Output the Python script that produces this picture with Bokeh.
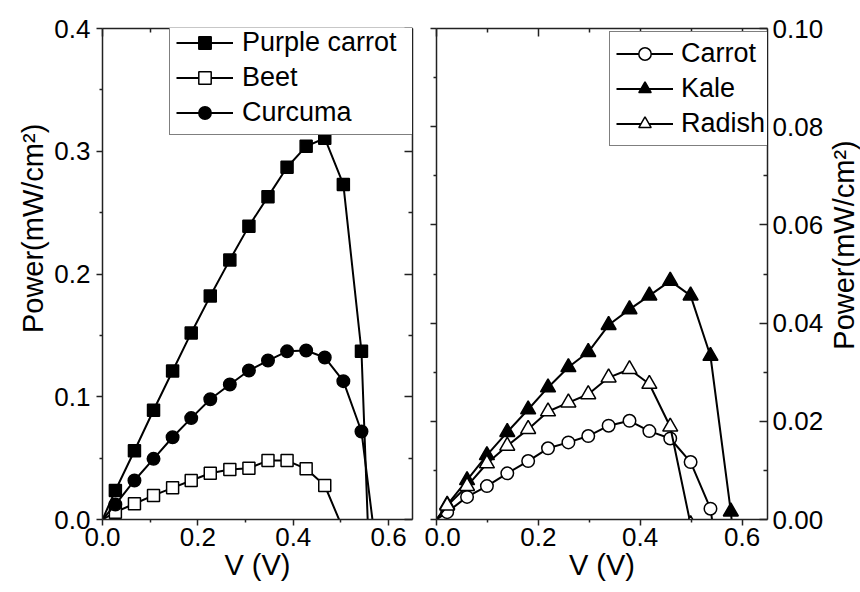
import math

from bokeh.core.properties import value
from bokeh.embed import file_html
from bokeh.layouts import row
from bokeh.models import (CustomJSTickFormatter, FixedTicker, Legend, LegendItem,
                          LinearAxis, PrintfTickFormatter, Range1d)
from bokeh.plotting import figure
from bokeh.resources import INLINE

# ---- left panel: purple carrot, beet, curcuma ----
v_left = [0.0, 0.027, 0.067, 0.107, 0.147, 0.186, 0.226, 0.267, 0.307, 0.347,
          0.387, 0.427, 0.466, 0.505, 0.543, 0.583]
purple_carrot = [0.0, 0.0236, 0.056, 0.089, 0.121, 0.152, 0.182, 0.2115, 0.239,
                 0.263, 0.287, 0.304, 0.3106, 0.273, 0.137, -0.284]
beet = [0.0, 0.006, 0.0128, 0.0196, 0.0258, 0.0318, 0.0377, 0.0407, 0.0418,
        0.048, 0.048, 0.0413, 0.0277, -0.0083]
curcuma = [0.0, 0.0122, 0.0318, 0.0494, 0.067, 0.0826, 0.098, 0.110, 0.1214,
           0.1295, 0.137, 0.1377, 0.132, 0.1127, 0.0717, -0.053]

# ---- right panel: carrot, kale, radish ----
v_right = [0.0, 0.021, 0.060, 0.099, 0.139, 0.180, 0.219, 0.259, 0.298, 0.338,
           0.379, 0.418, 0.459, 0.499, 0.538, 0.578, 0.618]
carrot = [0.0, 0.0015, 0.0046, 0.0068, 0.0094, 0.0119, 0.0145, 0.0157, 0.017,
          0.0191, 0.0201, 0.018, 0.0165, 0.0117, 0.0022, -0.026]
kale = [0.0, 0.003, 0.008, 0.0131, 0.0178, 0.0224, 0.0269, 0.031, 0.0341,
        0.0396, 0.0428, 0.0456, 0.0486, 0.0456, 0.0333, 0.0016, -0.041]
radish = [0.0, 0.0028, 0.0068, 0.0114, 0.015, 0.0184, 0.022, 0.0238, 0.0255,
          0.0289, 0.0306, 0.0276, 0.0189, -0.001]

# ---- ticks ----
x_major = [0.0, 0.2, 0.4, 0.6]
x_minor = [0.1, 0.3, 0.5]
yl_major = [0.0, 0.1, 0.2, 0.3, 0.4]
yl_minor = [0.05, 0.15, 0.25, 0.35]
yr_major = [0.0, 0.02, 0.04, 0.06, 0.08, 0.10]
yr_minor = [0.01, 0.03, 0.05, 0.07, 0.09]

x_title = "V (V)"
y_title = "Power(mW/cm²)"

FONT = "Liberation Sans"
AXIS_COLOR = "#222222"
TICK_FONT = "26px"
LABEL_FONT = "29px"
LEGEND_FONT = "27px"
HEIGHT = 592


def style_axis(ax, major, minor, fmt, labels, inward):
    ax.ticker = FixedTicker(ticks=major, minor_ticks=minor)
    ax.axis_line_color = AXIS_COLOR
    ax.axis_line_width = 1.5
    ax.major_tick_line_color = AXIS_COLOR
    ax.minor_tick_line_color = AXIS_COLOR
    ax.major_tick_line_width = 1.5
    ax.minor_tick_line_width = 1.5
    if inward:
        ax.major_tick_in, ax.major_tick_out = 8, 0
        ax.minor_tick_in, ax.minor_tick_out = 4, 0
    else:
        ax.major_tick_in, ax.major_tick_out = 0, 6
        ax.minor_tick_in, ax.minor_tick_out = 0, 3
    ax.major_label_text_font = FONT
    ax.major_label_text_color = "black"
    ax.major_label_text_font_size = TICK_FONT
    if labels:
        ax.formatter = PrintfTickFormatter(format=fmt)
    else:
        # mirrored frame side: ticks only
        ax.formatter = CustomJSTickFormatter(code="return ''")
        ax.major_label_standoff = 0
    ax.axis_label_text_font = FONT
    ax.axis_label_text_font_size = LABEL_FONT
    ax.axis_label_text_font_style = "normal"
    ax.axis_label_text_color = "black"


def make_panel(width, ymax, left_border, right_border, y_side):
    p = figure(width=width, height=HEIGHT, x_range=Range1d(0, 0.65),
               y_range=Range1d(0, ymax), y_axis_location=y_side,
               output_backend="svg", toolbar_location=None,
               min_border_left=left_border, min_border_right=right_border,
               min_border_top=28, min_border_bottom=73)
    p.grid.visible = False
    p.outline_line_color = None
    p.background_fill_color = "white"
    p.border_fill_color = "white"
    return p


def title_strip(width, center_x, center_y):
    """Narrow strip holding a y title that reads bottom-to-top."""
    s = figure(width=width, height=HEIGHT, x_range=Range1d(0, width),
               y_range=Range1d(0, HEIGHT), output_backend="svg",
               toolbar_location=None, x_axis_location=None,
               y_axis_location=None, min_border=0, min_border_left=0,
               min_border_right=0, min_border_top=0, min_border_bottom=0)
    s.grid.visible = False
    s.outline_line_color = None
    s.background_fill_color = "white"
    s.border_fill_color = "white"
    s.text(x=[center_x], y=[HEIGHT - center_y], text=[y_title],
           angle=math.pi / 2, text_align="center",
           text_baseline="middle", text_font=value(FONT),
           text_font_size=value(LABEL_FONT), text_color="black")
    return s


def series(p, xs, ys, marker, filled, size):
    line = p.line(xs, ys, line_color="black", line_width=2)
    pts = p.scatter(xs[1:], ys[1:], marker=marker, size=size,
                    fill_color="black" if filled else "white",
                    line_color="black", line_width=1.5)
    return [line, pts]


def make_legend(items, loc, label_width, standoff):
    return Legend(items=items, location=loc, padding=6, spacing=4,
                  glyph_width=57, glyph_height=31, label_standoff=standoff,
                  label_width=label_width, label_text_font=FONT,
                  label_text_font_size=LEGEND_FONT, label_text_color="black",
                  border_line_color="black", border_line_width=1.5,
                  background_fill_color="white", background_fill_alpha=1.0)


# ---- left y title ----
t_left = title_strip(50, 32, 241)

# ---- left panel ----
p1 = make_panel(374, 0.4, 52, 12, "left")
style_axis(p1.xaxis[0], x_major, x_minor, "%.1f", True, False)
style_axis(p1.yaxis[0], yl_major, yl_minor, "%.1f", True, False)
p1.xaxis[0].axis_label = x_title
p1.xaxis[0].major_label_standoff = 2
p1.xaxis[0].axis_label_standoff = 0
p1.yaxis[0].major_label_standoff = 6
top1 = LinearAxis()
style_axis(top1, x_major, x_minor, "%.1f", False, True)
right1 = LinearAxis()
style_axis(right1, yl_major, yl_minor, "%.1f", False, True)
p1.add_layout(top1, "above")
p1.add_layout(right1, "right")

r_pc = series(p1, v_left, purple_carrot, "square", True, 12)
r_beet = series(p1, v_left[:len(beet)], beet, "square", False, 12)
r_cur = series(p1, v_left, curcuma, "circle", True, 12.5)

p1.add_layout(make_legend([
    LegendItem(label="Purple carrot", renderers=r_pc),
    LegendItem(label="Beet", renderers=r_beet),
    LegendItem(label="Curcuma", renderers=r_cur),
], (67, 384), 165, 9))

# ---- right panel ----
p2 = make_panel(402, 0.10, 12, 56, "right")
style_axis(p2.xaxis[0], x_major, x_minor, "%.1f", True, False)
style_axis(p2.yaxis[0], yr_major, yr_minor, "%.2f", True, True)
p2.xaxis[0].axis_label = x_title
p2.xaxis[0].major_label_standoff = 2
p2.xaxis[0].axis_label_standoff = 0
p2.yaxis[0].major_label_standoff = 5
top2 = LinearAxis()
style_axis(top2, x_major, x_minor, "%.1f", False, True)
left2 = LinearAxis()
style_axis(left2, yr_major, yr_minor, "%.2f", False, False)
p2.add_layout(top2, "above")
p2.add_layout(left2, "left")

r_car = series(p2, v_right[:len(carrot)], carrot, "circle", False, 12.5)
r_kale = series(p2, v_right, kale, "triangle", True, 15)
r_rad = series(p2, v_right[:len(radish)], radish, "triangle", False, 15)

p2.add_layout(make_legend([
    LegendItem(label="Carrot", renderers=r_car),
    LegendItem(label="Kale", renderers=r_kale),
    LegendItem(label="Radish", renderers=r_rad),
], (173, 373), 20, 8))

# ---- right y title ----
t_right = title_strip(34, 17, 261)

layout = row(t_left, p1, p2, t_right)
open("out.html", "w").write(file_html(layout, INLINE))
